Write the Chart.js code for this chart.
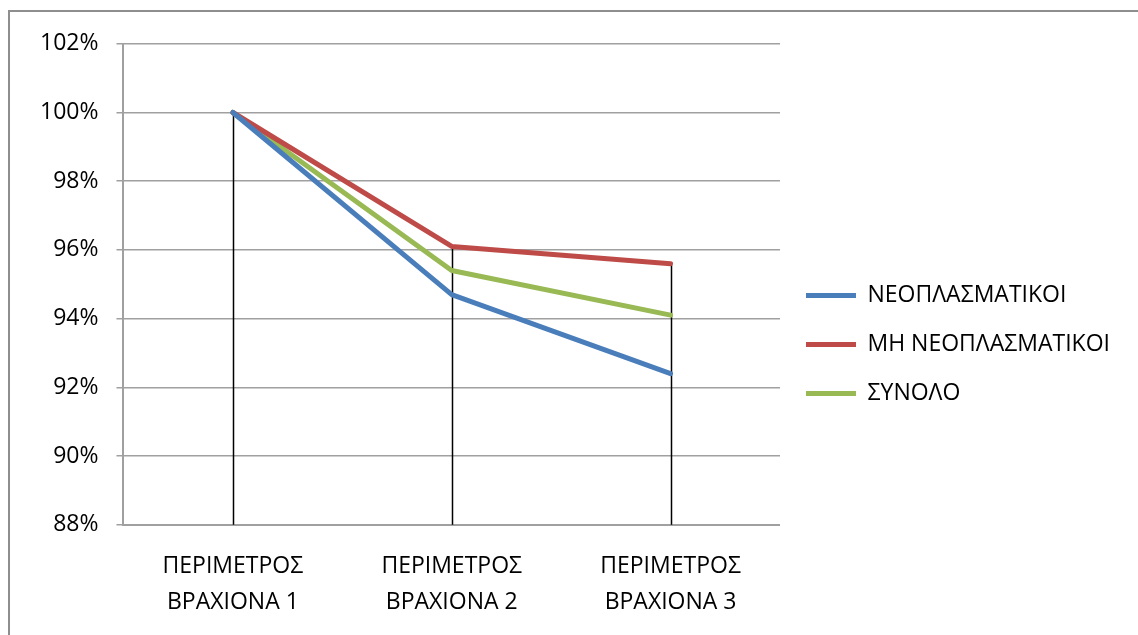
<!DOCTYPE html>
<html>
<head>
<meta charset="utf-8">
<script src="https://cdn.jsdelivr.net/npm/chart.js@4.4.1/dist/chart.umd.min.js"></script>
<style>
  body { margin: 0; background: #fff; overflow: hidden; }
  #frame {
    position: absolute; left: 8px; top: 10px; width: 1130px; height: 625px;
    border-left: 2px solid #8e8e8e; border-top: 2px solid #8e8e8e;
    box-sizing: border-box;
  }
  #wrap { position: absolute; left: 10px; top: 12px; width: 1128px; height: 633px; }
</style>
</head>
<body>
<div id="frame"></div>
<div id="wrap"><canvas id="myChart"></canvas></div>
<script>
// categories and series
const categories = [
  ['ΠΕΡΙΜΕΤΡΟΣ', 'ΒΡΑΧΙΟΝΑ 1'],
  ['ΠΕΡΙΜΕΤΡΟΣ', 'ΒΡΑΧΙΟΝΑ 2'],
  ['ΠΕΡΙΜΕΤΡΟΣ', 'ΒΡΑΧΙΟΝΑ 3']
];
const neoplasmatikoi = [100, 94.7, 92.4];
const miNeoplasmatikoi = [100, 96.1, 95.6];
const synolo = [100, 95.4, 94.1];
const yTicks = [88, 90, 92, 94, 96, 98, 100, 102];

// black drop lines from the highest point down to the axis
const dropLines = {
  id: 'dropLines',
  beforeDatasetsDraw(chart) {
    const ctx = chart.ctx;
    const x = chart.scales.x, y = chart.scales.y;
    ctx.save();
    ctx.strokeStyle = '#000';
    ctx.lineWidth = 1.5;
    categories.forEach((c, i) => {
      let top = Math.max(...chart.data.datasets.map(d => d.data[i]));
      let px = Math.round(x.getPixelForValue(i)) + 0.5;
      ctx.beginPath();
      ctx.moveTo(px, y.getPixelForValue(top));
      ctx.lineTo(px, y.getPixelForValue(y.min));
      ctx.stroke();
    });
    ctx.restore();
  }
};

const font = { family: 'Open Sans', size: 23 };

var ctx = document.getElementById('myChart').getContext('2d');
var chart = new Chart(ctx, {
  type: 'line',
  data: {
    labels: categories,
    datasets: [
      { label: 'ΝΕΟΠΛΑΣΜΑΤΙΚΟΙ', data: neoplasmatikoi, borderColor: '#4a7ebb', backgroundColor: '#4a7ebb' },
      { label: 'ΜΗ ΝΕΟΠΛΑΣΜΑΤΙΚΟΙ', data: miNeoplasmatikoi, borderColor: '#be4b48', backgroundColor: '#be4b48' },
      { label: 'ΣΥΝΟΛΟ', data: synolo, borderColor: '#98b954', backgroundColor: '#98b954' }
    ]
  },
  options: {
    responsive: true,
    maintainAspectRatio: false,
    animation: false,
    elements: {
      line: { borderWidth: 5, tension: 0, borderCapStyle: 'round', borderJoinStyle: 'round' },
      point: { radius: 0, borderWidth: 5 }
    },
    layout: { padding: { top: 16, left: 12, right: 18, bottom: 1 } },
    plugins: {
      tooltip: { enabled: false },
      legend: {
        position: 'right',
        maxWidth: 420,
        title: { display: true, text: ' ', padding: 0, font: { family: 'Open Sans', size: 14 } },
        labels: {
          usePointStyle: true,
          pointStyle: 'line',
          pointStyleWidth: 50,
          padding: 26,
          color: '#000',
          font: font
        }
      }
    },
    scales: {
      x: {
        offset: true,
        grid: { display: false, drawTicks: false },
        border: { display: true, color: '#a0a0a0', width: 2 },
        ticks: { color: '#000', font: { family: 'Open Sans', size: 23, lineHeight: 1.55 }, padding: 24, maxRotation: 0 }
      },
      y: {
        min: 88,
        max: 102,
        afterBuildTicks(axis) { axis.ticks = yTicks.map(v => ({ value: v })); },
        grid: { color: '#a0a0a0', lineWidth: 1.5, tickLength: 7 },
        border: { display: true, color: '#a0a0a0', width: 2 },
        ticks: { color: '#000', font: font, padding: 18, callback: v => v + '%' }
      }
    }
  },
  plugins: [dropLines]
});
</script>
</body>
</html>
